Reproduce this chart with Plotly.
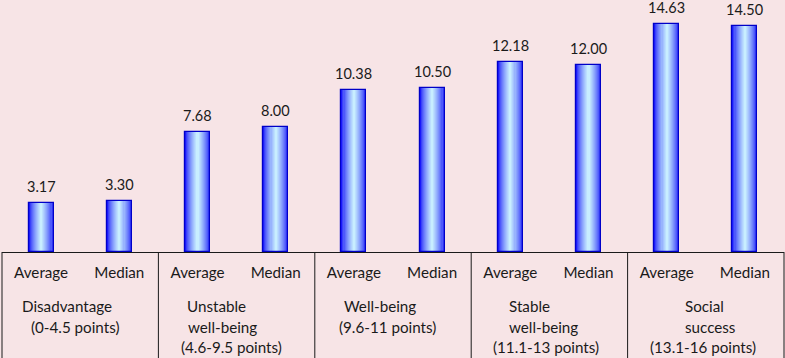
import plotly.graph_objects as go

# ---- data ----
bar_labels = ["Average", "Median"] * 5
values = [3.17, 3.30, 7.68, 8.00, 10.38, 10.50, 12.18, 12.00, 14.63, 14.50]
value_text = ["3.17", "3.30", "7.68", "8.00", "10.38", "10.50", "12.18", "12.00", "14.63", "14.50"]
group_lines = [
    ["Disadvantage", "(0-4.5 points)"],
    ["Unstable", "well-being", "(4.6-9.5 points)"],
    ["Well-being", "(9.6-11 points)"],
    ["Stable", "well-being", "(11.1-13 points)"],
    ["Social", "success", "(13.1-16 points)"],
]

# ---- style ----
line_xshift = [
    [-13, -5],
    [-20, -14, -5],
    [-13, -6],
    [-20, -6, -3],
    [-1, 4, -3],
]
FONT = "Lato"
TXT = "#1a1a1a"
BG = "#F7E4E6"
W = 785
H = 358
ML, MR, MT, MB = 2, 1, 0, 106
BAR_W = 0.32

x = list(range(len(values)))

fig = go.Figure()

# gradient bars emulated with layered bars of decreasing width
N = 12
c0 = (25, 25, 250)
c1 = (200, 238, 255)
for k in range(N):
    t = k / (N - 1)
    e = t ** 0.7
    col = "rgb(%d,%d,%d)" % tuple(int(c0[i] + (c1[i] - c0[i]) * e) for i in range(3))
    w = BAR_W * (1 - k / N)
    fig.add_trace(go.Bar(
        x=x, y=values, width=w, marker=dict(color=col, line=dict(width=0)),
        hoverinfo="skip", showlegend=False,
    ))

# outline on top
fig.add_trace(go.Bar(
    x=x, y=values, width=BAR_W,
    marker=dict(color="rgba(0,0,0,0)", line=dict(color="#0000c8", width=1.2)),
    showlegend=False,
))

# value labels
for xi, v, t in zip(x, values, value_text):
    fig.add_annotation(x=xi, y=v, text=t, showarrow=False, yanchor="bottom",
                       yshift=6, font=dict(family=FONT, size=14.5, color=TXT))

# group labels
ng = len(group_lines)
line_gap = [54, 75, 95]
for g, lines in enumerate(group_lines):
    for j, ln in enumerate(lines):
        fig.add_annotation(xref="paper", yref="paper", x=(g + 0.5) / ng, y=0,
                           xshift=line_xshift[g][j], yshift=-line_gap[j],
                           text=ln, showarrow=False, xanchor="center", yanchor="middle",
                           font=dict(family=FONT, size=15.2, color=TXT))

# divider lines
for g in range(ng + 1):
    fig.add_shape(type="line", xref="paper", yref="paper",
                  x0=g / ng, x1=g / ng, y0=0, y1=-(MB + 2) / (H - MT - MB),
                  line=dict(color="#1a1a1a", width=1))

fig.update_layout(
    width=W, height=H,
    margin=dict(l=ML, r=MR, t=MT, b=MB),
    paper_bgcolor=BG, plot_bgcolor=BG,
    barmode="overlay", bargap=0,
    font=dict(family=FONT, size=15.2, color=TXT),
    xaxis=dict(range=[-0.5, 9.5], tickvals=x, ticktext=bar_labels,
               showline=True, linecolor="#1a1a1a", linewidth=1,
               ticks="outside", ticklen=7, tickcolor="rgba(0,0,0,0)",
               showgrid=False, zeroline=False, fixedrange=True,
               tickfont=dict(family=FONT, size=15.2, color=TXT)),
    yaxis=dict(range=[0, 16.17], visible=False, showgrid=False, zeroline=False),
)

fig.write_html(
    "out.html",
    config={"displayModeBar": False},
    post_script="document.body.style.margin='0';document.body.style.overflow='hidden';",
)
